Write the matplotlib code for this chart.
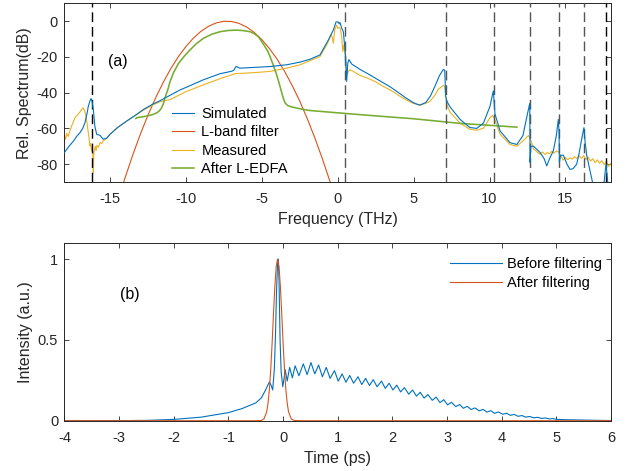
import numpy as np
import matplotlib
matplotlib.use("Agg")
import matplotlib.pyplot as plt

plt.rcParams['font.family'] = ['Liberation Sans', 'DejaVu Sans']
plt.rcParams['axes.unicode_minus'] = False

# ---- (a) spectrum data ----
sim_f = [-18, -17.7, -17.4, -17.2, -16.98, -16.8, -16.65, -16.5, -16.43, -16.3, -16.25, -16.18,
         -16.1, -16.0, -15.88, -15.66, -15.44, -15.22, -15.0, -14.5, -13.9, -13.3, -12.8, -12.2,
         -11.7, -11.05, -10.39, -9.95, -8.85, -7.75, -6.98, -6.85, -6.72, -6.65, -6.55, -6.44,
         -5.34, -4.46, -3.36, -2.48, -1.82, -1.17, -0.62, -0.29, -0.11, 0.04, 0.1, 0.15, 0.26,
         0.37, 0.44, 0.52, 0.59, 0.66, 0.74, 0.92, 1.47, 2.0, 2.5, 3.0, 3.5, 4.0, 4.5, 5.0, 5.4,
         5.8, 6.1, 6.4, 6.7, 6.96, 7.05, 7.11, 7.2, 7.4, 8.06, 8.7, 9.16, 9.6, 10.03, 10.25,
         10.36, 10.7, 11.35, 11.8, 12.2, 12.56, 12.65, 12.67, 12.72, 12.9, 13.33, 13.6, 13.77,
         13.95, 14.2, 14.4, 14.53, 14.58, 14.6, 14.68, 14.86, 15.1, 15.3, 15.5, 15.74, 15.9,
         16.07, 16.22, 16.3, 16.4, 16.6, 16.73, 16.85, 17.2, 17.5, 17.62, 17.68, 17.74, 17.85, 18]
sim_db = [-73.5, -70, -67, -64.5, -62.4, -60, -56.8, -51, -47.6, -44, -43.3, -45,
          -49.4, -58.7, -63.3, -63.9, -66.1, -65.5, -63.3, -59.5, -55.9, -52.5, -49.4, -46.5,
          -44.5, -41.5, -38.5, -36.9, -32.8, -29.4, -28, -27.5, -25.6, -25.4, -26, -26.3,
          -25.8, -25.4, -24.4, -22.9, -21.3, -18.9, -10.6, -5, -0.4, -0.5, -1.5, -0.8, -3.9,
          -5.9, -12.4, -19.8, -33.7, -23.5, -21.5, -24, -27, -29.5, -32, -34.5, -37, -40, -43,
          -45.7, -47, -45.5, -42, -36.5, -30.5, -27, -27.5, -42, -45, -48, -55, -59.5, -60,
          -57, -47.6, -39, -52, -61.5, -68, -69, -64, -49.4, -46, -79, -70, -70, -73.5, -77,
          -81, -77, -72.6, -64, -55, -62, -79, -75, -75, -80, -83, -82.5, -80, -74, -66, -59.6,
          -68, -75, -83, -88, -93, -98, -94, -84, -80, -86, -96, -100]

filt_f = [-14.1, -13.5, -13.0, -12.5, -12.0, -11.5, -11.0, -10.5, -10.0, -9.5, -9.0, -8.5,
          -8.0, -7.5, -7.0, -6.5, -6.0, -5.5, -5.0, -4.5, -4.0, -3.5, -3.0, -2.5, -2.0, -1.5,
          -1.0, -0.5]
filt_db = [-90, -74.8, -63.2, -52.6, -43.0, -34.3, -26.6, -19.9, -14.2, -9.4, -5.6, -2.8,
           -0.95, -0.08, -0.18, -1.25, -3.3, -6.3, -10.3, -15.3, -21.2, -28.1, -36.0, -44.8,
           -54.7, -65.5, -77.3, -90]

meas_f = [-18, -17.93, -17.85, -17.75, -17.65, -17.53, -17.4, -17.3, -17.2, -17.09, -16.95,
          -16.87, -16.76, -16.68, -16.58, -16.5, -16.43, -16.38, -16.32, -16.27, -16.22, -16.17,
          -16.12, -16.1, -16.07, -16.03, -15.97, -15.92, -15.86, -15.77, -15.66, -15.55, -15.44,
          -15.22, -15.0, -14.5, -13.9, -13.3, -12.8, -12.2, -11.7, -11.05, -9.95, -8.85, -7.75,
          -6.77, -5.34, -4.46, -3.36, -2.48, -1.17, -0.73, -0.55, -0.45, -0.36, -0.29, -0.2,
          -0.07, 0.0, 0.1, 0.18, 0.26, 0.33, 0.4, 0.48, 0.55, 0.62, 0.7, 0.81, 1.0, 1.5, 2.0,
          2.5, 3.0, 3.66, 4.0, 4.5, 4.98, 5.42, 5.8, 6.08, 6.4, 6.63, 6.96, 7.05, 7.11, 7.2,
          7.4, 8.06, 8.7, 9.16, 9.6, 10.03, 10.2, 10.35, 10.5, 10.7, 11.35, 11.8, 12.2, 12.56,
          12.7, 12.9, 13.05, 13.2, 13.35, 13.5, 13.65, 13.8, 13.95, 14.1, 14.25, 14.4, 14.55,
          14.7, 14.85, 15.0, 15.15, 15.3, 15.45, 15.6, 15.75, 15.9, 16.05, 16.2, 16.35, 16.5,
          16.65, 16.8, 16.95, 17.1, 17.25, 17.4, 17.55, 17.7, 17.85, 18.0]
meas_db = [-63.5, -66.2, -62.8, -64.5, -61.5, -58.7, -56, -54, -53, -52, -50.5,
           -49.4, -48.5, -50, -53, -58, -62.4, -66, -69.8, -68.5, -72.5, -70.5,
           -76, -85, -74, -72, -70, -72.5, -69.5, -70.5, -68, -68.5, -67,
           -65.5, -63.3, -59.5, -55.9, -52.6, -49.8, -47, -45, -43.9, -39.3, -35.6, -32.2,
           -29.4, -28.7, -28.1, -26.3, -24.4, -19.8, -13.3, -10, -7.5, -9, -12.4, -5,
           -2.2, -4, -3.5, -4.5, -8.7, -17, -13.3, -18.9, -28, -30, -28, -27.2, -28, -30.5, -32,
           -34, -36.5, -39.5, -41.5, -44, -46, -47, -46, -44.8, -41.5, -38, -36, -36.5, -42, -47,
           -51, -57, -60.5, -61, -59.9, -54, -52.8, -55, -59, -63.3, -69, -70, -67, -64,
           -66, -71.7, -72.5, -73.8, -74.4, -73.2, -74.6, -73.5, -74.2, -72.8, -73.9, -72.6, -73.3,
           -75.5, -77.8, -76.2, -77.5, -76.4, -77.2, -75.8, -76.9, -75.3, -76.8, -75.2, -77.4, -76.1,
           -78.3, -77.0, -79.2, -77.6, -79.5, -78.1, -80.3, -78.6, -81.2, -79.5]

edfa_f = [-13.3, -13.24, -12.9, -12.58, -12.2, -11.92, -11.75, -11.6, -11.48, -11.38, -11.16,
          -11.05, -10.83, -10.5, -10.2, -9.73, -9.3, -8.85, -8.3, -7.75, -7.2, -6.65, -6.2,
          -5.78, -5.5, -5.23, -5.0, -4.79, -4.6, -4.46, -4.25, -4.02, -3.85, -3.69, -3.57,
          -3.47, -3.3, -3.03, -2.6, -2.27, -1.82, 0.0, 2.5, 4.98, 8.06, 11.8]
edfa_db = [-54.5, -54, -53.6, -53.1, -52.3, -51.3, -50.2, -48.5, -46, -43, -37.4,
           -34, -29, -23.8, -20.5, -16.1, -12.5, -9.6, -7.3, -5.9, -5.2, -5, -5.3,
           -5.9, -7, -8.7, -11.5, -14.3, -17, -19.8, -24.5, -30, -35, -40, -43.5,
           -45.7, -47.2, -48, -48.8, -49.4, -50, -51.3, -53, -54.6, -57.2, -59.3]

mode_lines = [-16.2, 0.5, 7.1, 10.3, 12.65, 14.56, 16.2, 17.7]
mode_colors = ['black', '#555555', '#555555', '#555555', '#555555', '#555555', '#555555', 'black']

# ---- (b) time-domain data ----
before_t = [-4, -3, -2.5, -2, -1.5, -1.0, -0.75, -0.5, -0.4, -0.32, -0.28, -0.25, -0.22, -0.19,
            -0.16, -0.14, -0.12, -0.10, -0.09, -0.075, -0.055, -0.035, -0.005, 0.04, 0.075, 0.12,
            0.17, 0.22, 0.29, 0.37, 0.44, 0.51, 0.58, 0.65, 0.72, 0.79, 0.86, 0.94, 1.01, 1.08,
            1.15, 1.22, 1.29, 1.37, 1.44, 1.51, 1.58, 1.65, 1.72, 1.80, 1.87, 1.94, 2.01, 2.08,
            2.15, 2.22, 2.30, 2.37, 2.44, 2.51, 2.58, 2.65, 2.73, 2.80, 2.87, 2.94, 3.01, 3.08,
            3.16, 3.23, 3.30, 3.37, 3.44, 3.51, 3.59, 3.66, 3.73, 3.80, 3.87, 3.94, 4.02, 4.09,
            4.16, 4.23, 4.30, 4.37, 4.44, 4.51, 4.59, 4.66, 4.73, 4.80, 4.87, 4.94, 5.01, 5.2,
            5.5, 5.8, 6.0]
before_i = [0, 0.0005, 0.002, 0.008, 0.022, 0.05, 0.075, 0.11, 0.14, 0.19, 0.22, 0.24, 0.22, 0.19,
            0.32, 0.52, 0.8, 0.99, 1.0, 0.88, 0.5, 0.3, 0.21, 0.315, 0.245, 0.33,
            0.265, 0.34, 0.278, 0.352, 0.285, 0.36, 0.29, 0.345, 0.272, 0.33, 0.262, 0.31, 0.245, 0.29,
            0.238, 0.28, 0.232, 0.272, 0.224, 0.262, 0.218, 0.254, 0.21, 0.245, 0.2, 0.232, 0.19, 0.22,
            0.178, 0.205, 0.164, 0.19, 0.152, 0.176, 0.14, 0.162, 0.126, 0.146, 0.112, 0.13, 0.098, 0.114,
            0.087, 0.1, 0.077, 0.089, 0.069, 0.079, 0.061, 0.07, 0.053, 0.062, 0.046, 0.054, 0.04, 0.046,
            0.033, 0.039, 0.027, 0.032, 0.022, 0.026, 0.018, 0.021, 0.014, 0.017, 0.011, 0.013, 0.008, 0.006,
            0.004, 0.002, 0.001]

after_t = [-4, -0.5, -0.4, -0.35, -0.3, -0.275, -0.25, -0.225, -0.2, -0.175, -0.15, -0.125, -0.1,
           -0.075, -0.05, -0.025, 0.0, 0.025, 0.05, 0.075, 0.1, 0.15, 0.2, 0.3, 6]
after_i = [0, 0, 0.0015, 0.011, 0.055, 0.109, 0.196, 0.322, 0.484, 0.665, 0.834, 0.956, 1.0,
           0.956, 0.834, 0.665, 0.484, 0.322, 0.196, 0.109, 0.055, 0.011, 0.0015, 0, 0]

BLUE, ORANGE, YELLOW, GREEN = '#0072BD', '#D95319', '#EDB120', '#77AC30'
AX_COL = '#262626'


def style_axes(ax, xpad, ypad):
    for s in ax.spines.values():
        s.set_color(AX_COL)
        s.set_linewidth(0.7)
    ax.tick_params(direction='in', top=True, right=True, length=3.5, width=0.6,
                   colors=AX_COL, labelsize=10.5)
    ax.tick_params(axis='x', pad=xpad)
    ax.tick_params(axis='y', pad=ypad)


fig = plt.figure(figsize=(6.34, 4.71), dpi=100)

# (a)
ax1 = fig.add_axes([0.1017, 0.6136, 0.862, 0.3794])
for xv, c in zip(mode_lines, mode_colors):
    ax1.axvline(xv, color=c, lw=1.0, dashes=(7, 3.5), zorder=3)
ax1.plot(sim_f, sim_db, color=BLUE, lw=0.8, label='Simulated', zorder=4)
ax1.plot(filt_f, filt_db, color=ORANGE, lw=0.8, label='L-band filter', zorder=2)
ax1.plot(meas_f, meas_db, color=YELLOW, lw=0.8, label='Measured', zorder=2.5)
ax1.plot(edfa_f, edfa_db, color=GREEN, lw=1.15, label='After L-EDFA', zorder=2.6)
ax1.set_xlim(-18, 18)
ax1.set_ylim(-90, 10)
ax1.set_xticks([-15, -10, -5, 0, 5, 10, 15])
ax1.set_yticks([-80, -60, -40, -20, 0])
style_axes(ax1, 7.5, 5)
ax1.set_xlabel('Frequency (THz)', fontsize=11.5, color=AX_COL)
ax1.set_ylabel('Rel. Spectrum(dB)', fontsize=11.5, color=AX_COL)
ax1.xaxis.set_label_coords(0.5, -0.17)
ax1.yaxis.set_label_coords(-0.06, 0.5)
ax1.text(-14.5, -22.6, '(a)', fontsize=11.5, ha='center', va='center')
ax1.legend(loc='center left', bbox_to_anchor=(0.197, 0.227), frameon=False, fontsize=10.5,
           handlelength=1.5, handletextpad=0.5, labelspacing=0.3, borderpad=0, borderaxespad=0)

# (b)
ax2 = fig.add_axes([0.1017, 0.1068, 0.862, 0.3773])
ax2.plot(before_t, before_i, color=BLUE, lw=0.8, label='Before filtering')
ax2.plot(after_t, after_i, color=ORANGE, lw=0.8, label='After filtering')
ax2.set_xlim(-4, 6)
ax2.set_ylim(0, 1.1)
ax2.set_xticks(range(-4, 7))
ax2.set_yticks([0, 0.5, 1])
ax2.set_yticklabels(['0', '0.5', '1'])
style_axes(ax2, 7.5, 4.5)
ax2.set_xlabel('Time (ps)', fontsize=11.5, color=AX_COL)
ax2.set_ylabel('Intensity (a.u.)', fontsize=11.5, color=AX_COL)
ax2.xaxis.set_label_coords(0.5, -0.17)
ax2.yaxis.set_label_coords(-0.057, 0.5)
ax2.text(-2.81, 0.78, '(b)', fontsize=11.5, ha='center', va='center')
ax2.legend(loc='center left', bbox_to_anchor=(0.705, 0.827), frameon=False, fontsize=10.5,
           handlelength=3.6, handletextpad=0.3, labelspacing=0.35, borderpad=0, borderaxespad=0)

fig.savefig('out.png', dpi=100)
